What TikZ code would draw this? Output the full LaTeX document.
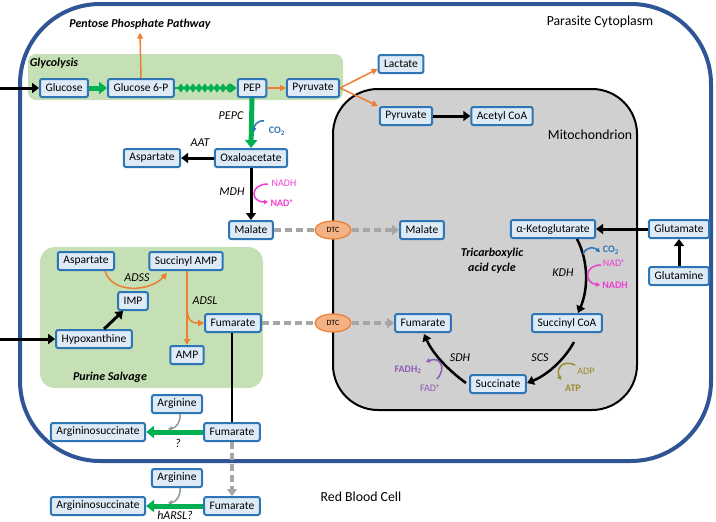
\documentclass[tikz,border=0pt]{standalone}
\usepackage{fontspec}
\setmainfont{Carlito}
\usetikzlibrary{arrows.meta,shapes.geometric,calc}
\definecolor{boxb}{HTML}{2E75B6}
\definecolor{boxf}{HTML}{DEEBF7}
\definecolor{grn}{HTML}{00B050}
\definecolor{orng}{HTML}{ED7D31}
\definecolor{orngl}{HTML}{F4B183}
\definecolor{greenbg}{HTML}{C5E0B4}
\definecolor{mitog}{HTML}{D0D0D0}
\definecolor{dgray}{HTML}{A6A6A6}
\definecolor{cytob}{HTML}{2F5597}
\definecolor{magn}{HTML}{F03CD2}
\definecolor{purp}{HTML}{8E5BB5}
\definecolor{oliv}{HTML}{9A8A30}
\definecolor{arggray}{HTML}{8C9C94}
\begin{document}
\begin{tikzpicture}[x=1pt,y=-1pt,
  box/.style={draw=boxb, fill=boxf, line width=2pt, rounded corners=2pt, inner xsep=5.5pt, inner ysep=0pt, minimum height=18pt, font=\fontsize{11.5}{13}\selectfont},
  dtc/.style={ellipse, draw=orng, fill=orngl, line width=1.2pt, minimum width=36pt, minimum height=18pt, inner sep=0pt, font=\fontsize{8}{9}\selectfont},
  lbl/.style={font=\fontsize{12}{14}\selectfont\itshape},
  blbl/.style={font=\fontsize{12}{14}\selectfont\bfseries\itshape},
  big/.style={font=\fontsize{13.8}{16}\selectfont},
  cof/.style={font=\fontsize{10}{11}\selectfont\bfseries},
  cofr/.style={font=\fontsize{10}{11}\selectfont},
  barr/.style={draw=black, line width=3pt, -{Triangle[length=7pt,width=10pt]}},
  bline/.style={draw=black, line width=2.5pt, -{Triangle[length=7pt,width=9pt]}},
  garr/.style={draw=grn, line width=5pt, -{Triangle[length=8pt,width=12pt]}},
  oarr/.style={draw=orng, line width=1.5pt, -{Triangle[length=6pt,width=6pt]}},
  darr/.style={draw=dgray, line width=3.5pt, dash pattern=on 7pt off 4pt, -{Triangle[length=7pt,width=10pt]}},
  dline/.style={draw=dgray, line width=3.5pt, dash pattern=on 7pt off 4pt},
  carr/.style={line width=1.5pt, -{Triangle[length=4pt,width=4.5pt]}}
]
\useasboundingbox (0,0) rectangle (716,522);
% compartments
\draw[line width=4pt, draw=cytob, rounded corners=80pt] (20,4) rectangle (711,461);
\draw[line width=2pt, fill=mitog, rounded corners=45pt] (333,89) rectangle (637,410);
\fill[greenbg, rounded corners=8pt] (28,54) rectangle (343,100);
\fill[greenbg, rounded corners=15pt] (40,247) rectangle (263,388);

% labels
\node[big] (cyto) at (600,22) {Parasite Cytoplasm};
\node[big] (mito) at (590,135) {Mitochondrion};
\node[big] (rbc) at (361,497) {Red Blood Cell};
\node[blbl] (glyc) at (54,63) {Glycolysis};
\node[blbl] (ppp) at (140,24) {Pentose Phosphate Pathway};
\node[blbl] (pur) at (110,377) {Purine Salvage};
\node[blbl] (tca1) at (492,253) {Tricarboxylic};
\node[blbl] (tca2) at (492,268) {acid cycle};
\node[lbl] at (231,116) {PEPC};
\node[lbl] at (200,143) {AAT};
\node[lbl] at (232,192) {MDH};
\node[lbl] at (563,273) {KDH};
\node[lbl] at (540,358) {SCS};
\node[lbl] at (460,358) {SDH};
\node[lbl] at (137,278) {ADSS};
\node[lbl] at (205,301) {ADSL};
\node[lbl] at (178,443) {?};
\node[lbl] at (175,515) {hARSL?};

% boxes
\node[box] (glc) at (64,88) {Glucose};
\node[box] (g6p) at (141,88) {Glucose 6-P};
\node[box] (pep) at (252,88) {PEP};
\node[box] (pyr) at (313,88) {Pyruvate};
\node[box] (lac) at (401,64) {Lactate};
\node[box] (pyrm) at (406,116) {Pyruvate};
\node[box] (acoa) at (502,116) {Acetyl CoA};
\node[box] (oaa) at (251,158) {Oxaloacetate};
\node[box] (asp1) at (152,158) {Aspartate};
\node[box] (mal) at (251,230) {Malate};
\node[dtc] (dtc1) at (333,230) {DTC};
\node[box] (malm) at (422,230) {Malate};
\node[box] (akg) at (553,229) {α-Ketoglutarate};
\node[box] (glu) at (679,229) {Glutamate};
\node[box] (gln) at (679,276) {Glutamine};
\node[box] (scoa) at (567,323) {Succinyl CoA};
\node[box] (fumm) at (423,323) {Fumarate};
\node[box] (suc) at (498,384) {Succinate};
\node[box] (asp2) at (86,261) {Aspartate};
\node[box] (samp) at (186,261) {Succinyl AMP};
\node[box] (imp) at (133,301) {IMP};
\node[box] (hyp) at (94,339) {Hypoxanthine};
\node[box] (amp) at (187,355) {AMP};
\node[box] (fump) at (233,323) {Fumarate};
\node[dtc] (dtc2) at (333,323) {DTC};
\node[box] (arg1) at (177,404) {Arginine};
\node[box] (as1) at (98,432) {Argininosuccinate};
\node[box] (fum1) at (232,432) {Fumarate};
\node[box] (arg2) at (177,478) {Arginine};
\node[box] (as2) at (98,506) {Argininosuccinate};
\node[box] (fum2) at (232,506) {Fumarate};

% cofactor labels
\node[cof, text=boxb] (co2a) at (277,131) {CO\textsubscript{2}};
\node[cofr, text=magn] (nadh1) at (284,183) {NADH};
\node[cof, text=magn] (nad1) at (282,203) {NAD\textsuperscript{+}};
\node[cof, text=boxb] (co2b) at (611,250) {CO\textsubscript{2}};
\node[cofr, text=magn] (nad2) at (614,263) {NAD\textsuperscript{+}};
\node[cof, text=magn] (nadh2) at (615,285) {NADH};
\node[cofr, text=oliv] (adp) at (586,371) {ADP};
\node[cof, text=oliv] (atp) at (573,388) {ATP};
\node[cof, text=purp] (fadh) at (408,370) {FADH\textsubscript{2}};
\node[cofr, text=purp] (fad) at (430,388) {FAD\textsuperscript{+}};

% glycolysis
\coordinate (inG) at (0,88);
\draw[barr] (inG) -- (glc.west);
\draw[garr] (glc.east) -- (g6p.west);
\draw[grn, line width=2pt] (g6p.east) -- ($(pep.west)+(-6,0)$);
\foreach \i in {0,...,8}
  \fill[grn] ($(g6p.east)+(6+6*\i,0)$) ++(-3.5,0) -- ++(3.5,-4.5) -- ++(3.5,4.5) -- ++(-3.5,4.5) -- cycle;
\draw[grn, line width=2pt, -{Triangle[length=7pt,width=10pt]}] ($(pep.west)+(-8,0)$) -- (pep.west);
\draw[oarr] (g6p.north) -- (ppp.south);
\draw[oarr] (pep.east) -- (pyr.west);
\draw[oarr] (pyr.east) -- ([yshift=-5pt]lac.west);
\draw[oarr] (pyr.east) -- ([xshift=-1pt]pyrm.north west);
\draw[barr] (pyrm.east) -- (acoa.west);

% PEP branch
\draw[garr] (pep.south) -- (oaa.north);
\coordinate (c2s) at (264,121);
\coordinate (c2e) at (254,132);
\draw[boxb, carr] (c2s) .. controls (257,120) and (254,126) .. (c2e);
\draw[barr] (oaa.west) -- (asp1.east);
\draw[barr] (oaa.south) -- (mal.north);
\coordinate (m1s) at (268,184);
\coordinate (m1e) at (268,202);
\draw[magn, carr] (m1s) .. controls (250,184) and (250,202) .. (m1e);
\draw[dline] (mal.east) -- (dtc1.west);
\draw[darr] (dtc1.east) -- (malm.west);

% TCA
\draw[barr] (glu.west) -- (akg.east);
\draw[barr] (gln.north) -- (glu.south);
\coordinate (k1) at (577,239);
\coordinate (k2) at (578,313);
\draw[bline] (k1) .. controls (589,262) and (588,290) .. (k2);
\coordinate (kc1) at (583,254);
\coordinate (kc2) at (600,252);
\draw[boxb, carr] (kc1) .. controls (587,246) and (594,247) .. (kc2);
\coordinate (kn1) at (601,265);
\coordinate (kn2) at (600,285);
\draw[magn, carr] (kn1) .. controls (584,265) and (584,283) .. (kn2);
\coordinate (s1) at (574,342);
\coordinate (s2) at (527,383);
\draw[bline] (s1) .. controls (563,362) and (545,376) .. (s2);
\coordinate (a1) at (575,365);
\coordinate (a2) at (561,380);
\draw[oliv, carr] (a1) .. controls (561,359) and (556,370) .. (a2);
\coordinate (d1) at (466,383);
\coordinate (d2) at (424,334);
\draw[bline] (d1) .. controls (448,370) and (433,354) .. (d2);
\coordinate (f1) at (437,379);
\coordinate (f2) at (426,362);
\draw[purp, carr] (f1) .. controls (447,368) and (440,356) .. (f2);

% purine salvage
\coordinate (inH) at (0,339);
\draw[barr] (inH) -- (hyp.west);
\draw[barr] ([xshift=10pt]hyp.north) -- ([xshift=-10pt]imp.south);
\coordinate (ad1) at (105,271);
\coordinate (ad2) at (167,273);
\draw[oarr] (ad1) .. controls (112,294) and (150,292) .. (ad2);
\draw[oarr] ([xshift=1pt]samp.south) -- (amp.north);
\coordinate (br) at (187,305);
\draw[oarr] (br) .. controls (187,322) and (192,323) .. (fump.west);
\draw[dline] (fump.east) -- (dtc2.west);
\draw[darr] (dtc2.east) -- (fumm.west);
\draw[black, line width=2.5pt] ([xshift=-1pt]fump.south) -- (fum1.north);

% arginine
\draw[garr] (fum1.west) -- (as1.east);
\coordinate (g1) at (168,429);
\draw[arggray, carr] ([xshift=3pt]arg1.south) .. controls (181,422) and (176,428) .. (g1);
\draw[darr] (fum1.south) -- (fum2.north);
\draw[garr] (fum2.west) -- (as2.east);
\coordinate (g2) at (168,503);
\draw[arggray, carr] ([xshift=3pt]arg2.south) .. controls (181,496) and (176,502) .. (g2);
\end{tikzpicture}
\end{document}
